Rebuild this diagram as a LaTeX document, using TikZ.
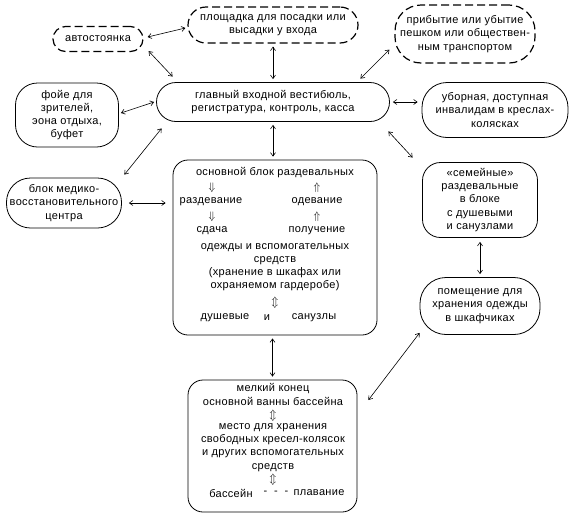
\documentclass[tikz,border=0pt]{standalone}
\usepackage{fontspec}
\setmainfont{Liberation Sans}[LetterSpace=3]
\usetikzlibrary{arrows.meta,calc,shapes.misc}
\tikzset{
  txt/.style={font=\fontsize{11}{13.2}\selectfont, align=center, inner sep=0pt},
  box/.style={draw, line width=0.8pt, txt, rounded corners=#1},
  box/.default=15pt,
  dbox/.style={box=#1, line width=1.2pt, dash pattern=on 8pt off 4pt},
  dbox/.default=15pt,
  arr/.style={line width=0.6pt, {Straight Barb[length=3.5pt,width=5pt]}-{Straight Barb[length=3.5pt,width=5pt]}},
  sym/.style={inner sep=0pt, font=\fontsize{11}{11}\selectfont}
}
\begin{document}
\begin{tikzpicture}[x=1pt,y=-1pt]
\useasboundingbox (0,0) rectangle (578,520);
% nodes
\node[dbox=12.5pt, minimum width=90pt, minimum height=25pt] (avto) at (98,39) {автостоянка};
\node[dbox=18pt, minimum width=170pt, minimum height=36pt] (plosh) at (273,25) {площадка для посадки или\\высадки у входа};
\node[dbox=26pt, minimum width=140pt, minimum height=58pt] (prib) at (465,34) {прибытие или убытие\\пешком или обществен-\\ным транспортом};
\node[box=22pt, minimum width=103pt, minimum height=64pt] (foye) at (67,115) {фойе для\\зрителей,\\эона отдыха,\\буфет};
\node[box=19.5pt, minimum width=233pt, minimum height=39pt] (glav) at (273,102) {главный входной вестибюль,\\регистратура, контроль, касса};
\node[box=25pt, minimum width=146pt, minimum height=55pt] (ubor) at (495,110) {уборная, доступная\\инвалидам в креслах-\\колясках};
\node[box=24pt, minimum width=115pt, minimum height=50pt] (medik) at (64,203) {блок медико-\\восстановительного\\центра};
\node[box=15pt, minimum width=204pt, minimum height=175pt] (osn) at (275,247.5) {};
\node[box=18pt, minimum width=115pt, minimum height=75pt] (sem) at (480,200) {«семейные»\\раздевальные\\в блоке\\с душевыми\\и санузлами};
\node[box=26pt, minimum width=120pt, minimum height=57pt] (pomesh) at (480,306) {помещение для\\хранения одежды\\в шкафчиках};
\node[box=15pt, minimum width=169pt, minimum height=132pt] (melk) at (272.5,446) {};
% text inside main block
\node[txt] (o1) at (275,173) {основной блок раздевальных};
\node[sym] (a1) at (212,188) {$\Downarrow$};
\node[sym] (a2) at (317,188) {$\Uparrow$};
\node[txt] (r1) at (211,202) {раздевание};
\node[txt] (r2) at (317,202) {одевание};
\node[sym] (a3) at (212,217) {$\Downarrow$};
\node[sym] (a4) at (317,217) {$\Uparrow$};
\node[txt] (s1) at (212,231) {сдача};
\node[txt] (s2) at (317,231) {получение};
\node[txt] (o2) at (275,267) {одежды и вспомогательных\\средств\\(хранение в шкафах или\\охраняемом гардеробе)};
\node[sym] (a5) at (275,303) {$\Updownarrow$};
\node[txt] (d1) at (225,318) {душевые};
\node[txt] (d2) at (267,318) {и};
\node[txt] (d3) at (314,318) {санузлы};
% text inside bottom block
\node[txt] (m1) at (273,394.5) {мелкий конец\\основной ванны бассейна};
\node[sym] (a6) at (273,416) {$\Updownarrow$};
\node[txt] (m2) at (273,447.5) {место для хранения\\свободных кресел-колясок\\и других вспомогательных\\средств};
\node[sym] (a7) at (273,480) {$\Updownarrow$};
\node[txt] (b1) at (231,493) {бассейн};
\node[txt] (b2) at (276,493) {-\ \ -\ \ -};
\node[txt] (b3) at (319,493) {плавание};
% connectors
\draw[arr] ($(avto.east)+(4,-2)$) -- ($(plosh.west)+(-2,3)$);
\draw[arr] ($(avto.south east)+(5,-1)$) -- ($(glav.north west)+(16.5,-5.5)$);
\draw[arr] ($(plosh.south)+(0,3)$) -- ($(glav.north)+(0,-3)$);
\draw[arr] ($(prib.south west)+(-5,-14)$) -- ($(glav.north east)+(-29.5,-3.5)$);
\draw[arr] ($(foye.east)+(2,-2)$) -- ($(glav.west)+(-2,0)$);
\draw[arr] ($(glav.east)+(3,0)$) -- ($(ubor.west)+(-4,-8)$);
\draw[arr] ($(glav.south east)+(-1.5,9.5)$) -- ($(sem.north west)+(-9.5,-4.5)$);
\draw[arr] ($(glav.south)+(0,3)$) -- ($(glav.south |- osn.north)+(0,-3)$);
\draw[arr] ($(glav.south west)+(5.5,6.5)$) -- ($(medik.north east)+(2.5,-3)$);
\draw[arr] ($(medik.east)+(7,0)$) -- ($(osn.west |- medik.east)+(-7,0)$);
\draw[arr] ($(sem.south)+(0,4)$) -- ($(pomesh.north)+(0,-3)$);
\draw[arr] ($(melk.north |- osn.south)+(0,3)$) -- ($(melk.north)+(0,-3)$);
\draw[arr] ($(melk.east)+(11,-46)$) -- ($(pomesh.south west)+(0,-2)$);
\end{tikzpicture}
\end{document}
